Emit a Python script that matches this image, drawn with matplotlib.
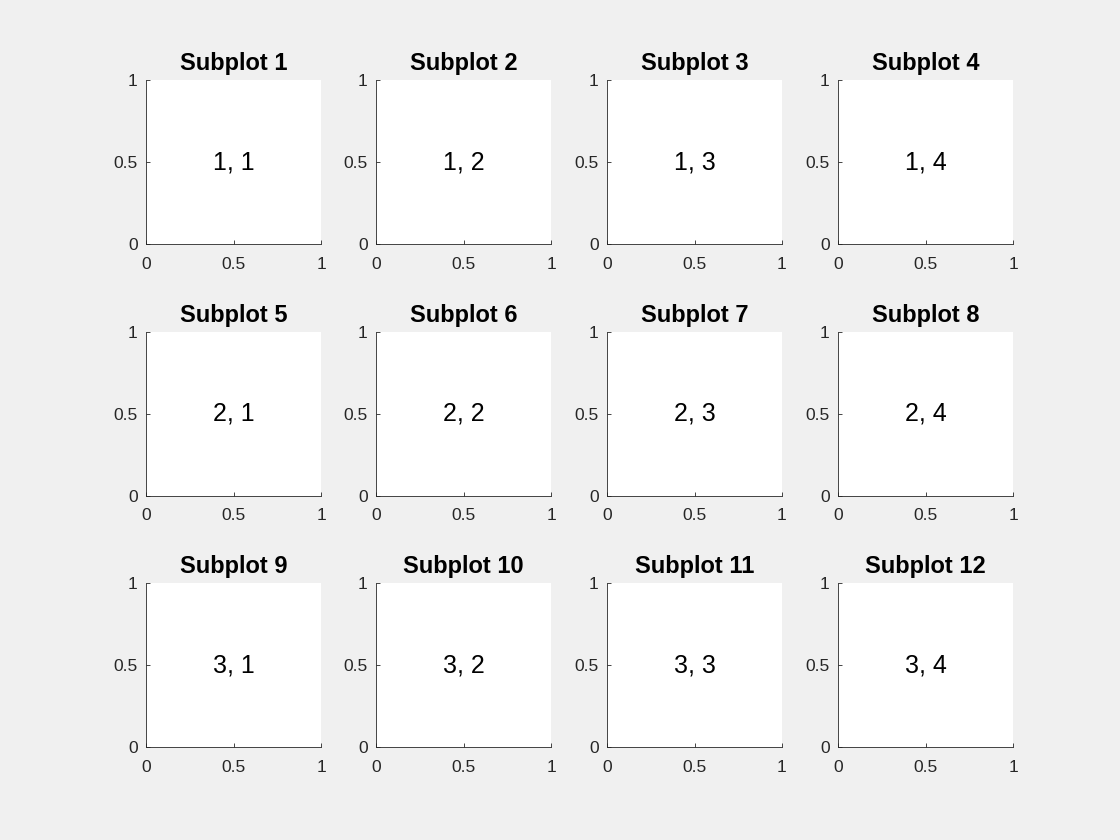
import matplotlib
matplotlib.use("Agg")
import matplotlib.pyplot as plt

plt.rcParams["font.family"] = ["Liberation Sans", "DejaVu Sans"]

n_rows = 3
n_cols = 4
tick_values = [0, 0.5, 1]
tick_labels = ["0", "0.5", "1"]

# axes layout in pixels (figure is 1120x840)
W, H = 1120, 840
col_left = [146, 376, 607, 838]
row_top = [80, 332, 583]
ax_w, ax_h = 175, 164

fig = plt.figure(figsize=(11.2, 8.4), dpi=100, facecolor="#f0f0f0")

k = 0
for r in range(n_rows):
    for c in range(n_cols):
        k += 1
        ax = fig.add_axes([col_left[c] / W, 1 - (row_top[r] + ax_h) / H, ax_w / W, ax_h / H])
        ax.set_xlim(0, 1)
        ax.set_ylim(0, 1)
        ax.set_xticks(tick_values, tick_labels)
        ax.set_yticks(tick_values, tick_labels)
        ax.tick_params(direction="in", length=3, labelsize=12.5, colors="#262626", width=0.6)
        ax.tick_params(axis="x", pad=9)
        ax.tick_params(axis="y", pad=6)
        for side in ("top", "right"):
            ax.spines[side].set_visible(False)
        for side in ("left", "bottom"):
            ax.spines[side].set_color("#262626")
            ax.spines[side].set_linewidth(0.6)
        ax.set_title(f"Subplot {k}", fontsize=17, fontweight="bold", pad=7)
        ax.text(0.5, 0.5, f"{r + 1}, {c + 1}", ha="center", va="center", fontsize=18)

fig.savefig("out.png", dpi=100, facecolor=fig.get_facecolor())
